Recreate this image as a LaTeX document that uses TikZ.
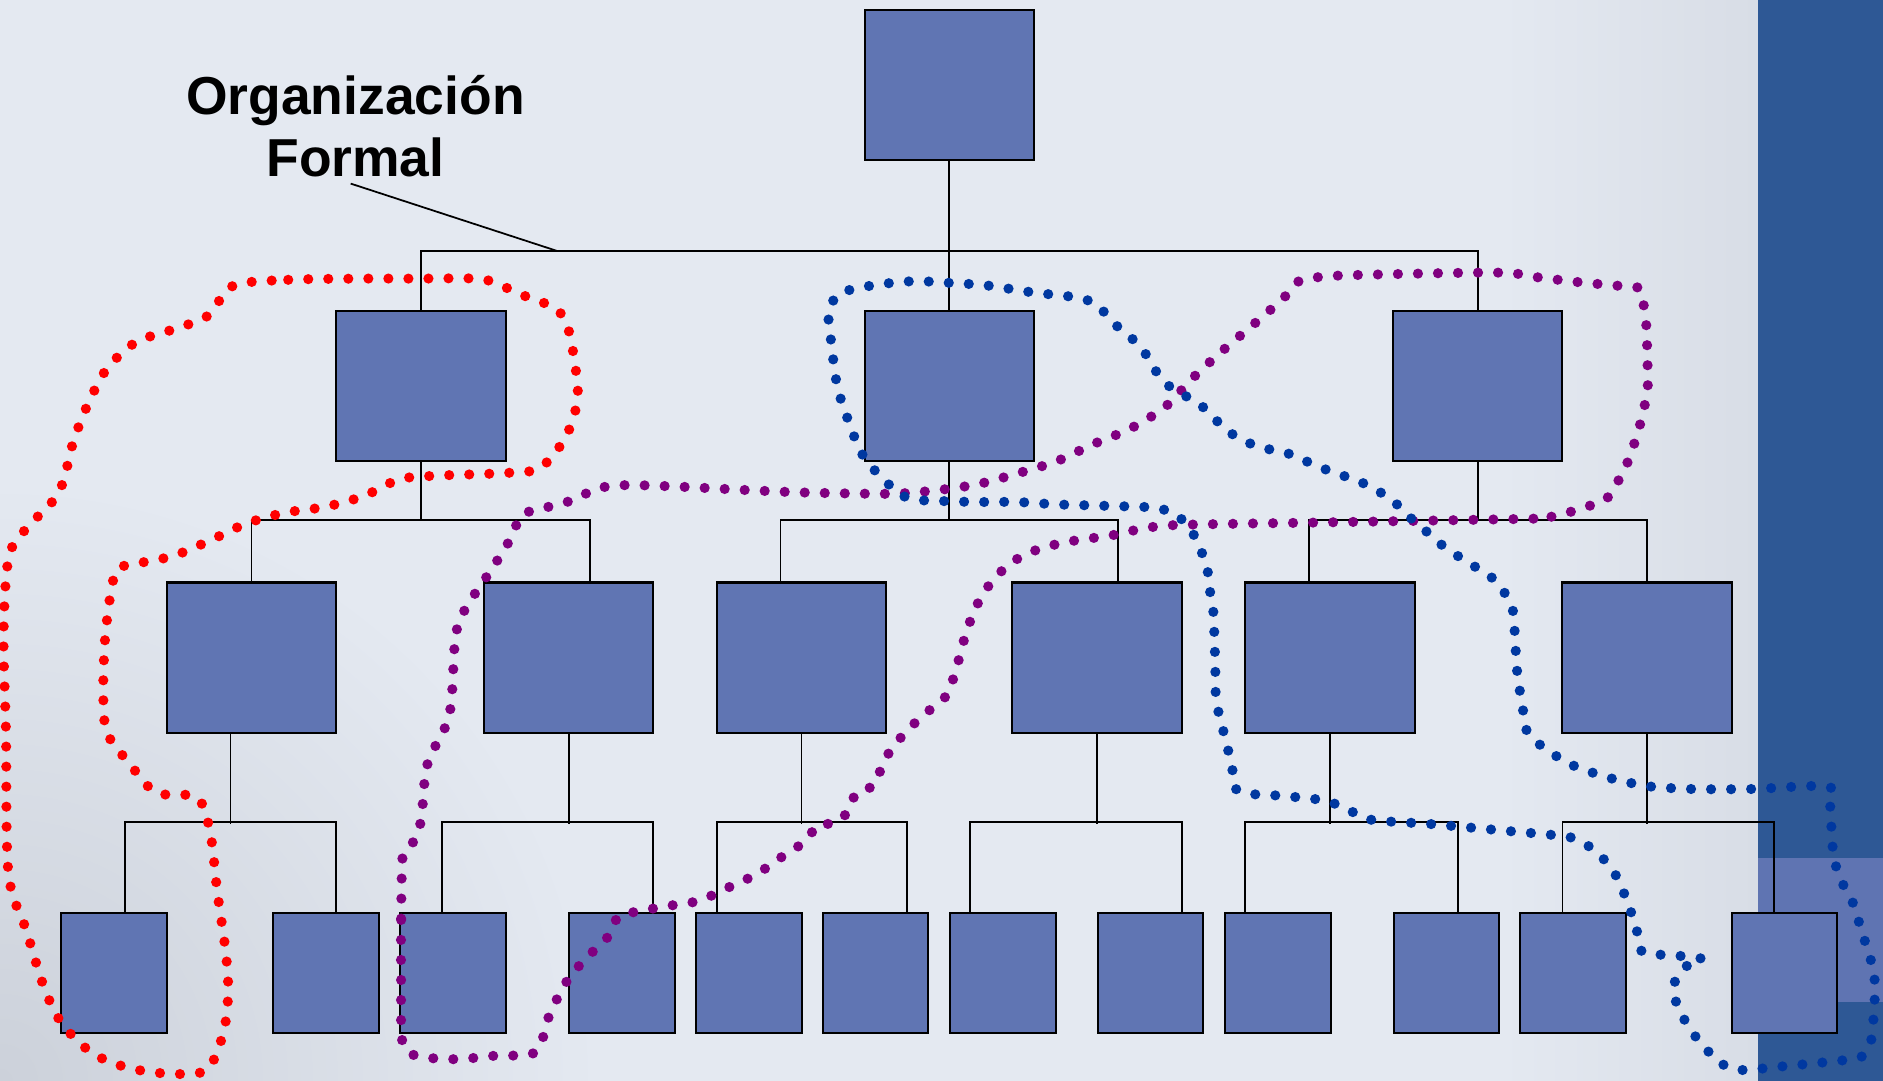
\documentclass[tikz,border=0pt]{standalone}
\usepackage{fontspec}
\setmainfont{Liberation Sans}
\usetikzlibrary{calc}
\definecolor{bg}{RGB}{228,233,241}
\definecolor{bgdark}{RGB}{204,209,218}
\definecolor{bgright}{RGB}{216,221,230}
\definecolor{strip}{RGB}{46,88,149}
\definecolor{band}{RGB}{95,116,178}
\definecolor{boxfill}{RGB}{96,117,179}
\definecolor{dotred}{RGB}{255,0,0}
\definecolor{dotpurple}{RGB}{128,0,128}
\definecolor{dotblue}{RGB}{0,56,160}
\begin{document}
\begin{tikzpicture}[x=0.012009cm,y=-0.012009cm,
  unitbox/.style={draw=black, line width=0.6pt, fill=boxfill, rectangle, inner sep=0pt},
  bigbox/.style={unitbox, minimum width=1.6933cm, minimum height=1.5011cm},
  smallbox/.style={unitbox, minimum width=1.0568cm, minimum height=1.2009cm},
  link/.style={draw=black, line width=0.5pt},
  dots/.style={line width=2.9pt, line cap=round, line join=round, dash pattern=on 0pt off 5.7pt},
]
% background
\useasboundingbox (0,0) rectangle (1568,900);
\fill[bg] (0,0) rectangle (1568,900);
\begin{scope}
  \clip (0,0) rectangle (1464,900);
  \shade[inner color=bgdark, outer color=bg] (0,900) circle (6cm);
  \shade[left color=bg, right color=bgright] (1250,0) rectangle (1464,900);
\end{scope}
\fill[strip] (1464,0) rectangle (1568,900);
\fill[band] (1464,714.5) rectangle (1568,834.4);

% title
\node[font=\bfseries\fontsize{15.2}{17.6}\selectfont, align=center, inner sep=0pt] (title) at (296,105) {Organización\\Formal};

% coordinates of the bars
\coordinate (L1) at (0,209);
\coordinate (L2) at (0,434);
\coordinate (barpt) at (464,209);

% boxes
\node[bigbox] (t) at (790.5,71) {};
\node[bigbox] (a1) at (350.5,321.5) {};
\node[bigbox] (a2) at (790.5,321.5) {};
\node[bigbox] (a3) at (1230.5,321.5) {};
\node[bigbox] (b1) at (209.5,547.5) {};
\node[bigbox] (b2) at (473.5,547.5) {};
\node[bigbox] (b3) at (667.5,547.5) {};
\node[bigbox] (b4) at (913.5,547.5) {};
\node[bigbox] (b5) at (1107.5,547.5) {};
\node[bigbox] (b6) at (1371.5,547.5) {};
\node[smallbox] (c1) at (95,810.5) {};
\node[smallbox] (c2) at (271.5,810.5) {};
\node[smallbox] (c3) at (377,810.5) {};
\node[smallbox] (c4) at (518,810.5) {};
\node[smallbox] (c5) at (623.5,810.5) {};
\node[smallbox] (c6) at (729,810.5) {};
\node[smallbox] (c7) at (835,810.5) {};
\node[smallbox] (c8) at (958,810.5) {};
\node[smallbox] (c9) at (1064,810.5) {};
\node[smallbox] (c10) at (1204.5,810.5) {};
\node[smallbox] (c11) at (1310,810.5) {};
\node[smallbox] (c12) at (1486,810.5) {};

% connectors level 0-1
\draw[link] (t.south) -- (t.south |- L1);
\draw[link] (a1.north) -- (a1.north |- L1) -- (a3.north |- L1) -- (a3.north);
\draw[link] (a2.north) -- (a2.north |- L1);
\draw[link] ($(title.south)+(-4,5)$) -- (barpt);
% level 1-2
\draw[link] (a1.south) -- (a1.south |- L2);
\draw[link] (a2.south) -- (a2.south |- L2);
\draw[link] (a3.south) -- (a3.south |- L2);
\draw[link] (b1.north) -- ++(0,-51) -| ($(b2.north)+(17.5,0)$);
\draw[link] ($(b3.north)+(-17.5,0)$) -- ++(0,-51) -| ($(b4.north)+(17.5,0)$);
\draw[link] ($(b5.north)+(-17.5,0)$) -- ++(0,-51) -| (b6.north);
% level 2-3
\draw[link] ($(b1.south)+(-17.5,0)$) -- ++(0,75);
\draw[link] (b2.south) -- ++(0,75);
\draw[link] (b3.south) -- ++(0,75);
\draw[link] (b4.south) -- ++(0,75);
\draw[link] (b5.south) -- ++(0,75);
\draw[link] (b6.south) -- ++(0,75);
\draw[link] ($(c1.north)+(9,0)$) -- ++(0,-75) -| ($(c2.north)+(8.5,0)$);
\draw[link] ($(c3.north)+(-9,0)$) -- ++(0,-75) -| ($(c4.north)+(26,0)$);
\draw[link] ($(c5.north)+(-26.5,0)$) -- ++(0,-75) -| ($(c6.north)+(26,0)$);
\draw[link] ($(c7.north)+(-27,0)$) -- ++(0,-75) -| ($(c8.north)+(26,0)$);
\draw[link] ($(c9.north)+(-27,0)$) -- ++(0,-75) -| ($(c10.north)+(9.5,0)$);
\draw[link] ($(c11.north)+(-9,0)$) -- ++(0,-75) -| ($(c12.north)+(-9,0)$);

% red dotted loop
\draw[dots, dotred] plot[smooth cycle, tension=0.5] coordinates {
(194,238) (240,233) (300,232) (346,232) (397,232) (413,236) (443,249) (462,256) (472,270) (478,298) (481,332) (471,364) (449,390) (417,394) (366,396) (333,399) (303,413) (271,422) (237,427) (205,436) (175,450) (144,463) (111,470) (96,477) (88,526) (86,576) (89,610) (108,636) (130,660) (164,664) (175,693) (181,743) (188,793) (190,827) (186,860) (172,891) (140,894) (106,889) (77,877) (52,853) (37,823) (22,775) (7,727) (5,611) (3,526) (8,461) (28,434) (45,416) (53,400) (61,368) (73,337) (89,307) (113,285) (142,275) (173,263)};

% purple dotted loop
\draw[dots, dotpurple] plot[smooth cycle, tension=0.5] coordinates {
(335,716) (334,766) (334,817) (335,867) (346,879) (379,882) (413,879) (446,876) (458,844) (474,814) (496,790) (508,778) (515,763) (531,759) (547,756) (565,753) (583,750) (598,743) (613,736) (628,729) (642,720) (656,710) (670,701) (682,686) (694,686) (707,675) (713,660) (728,654) (734,639) (742,624) (753,611) (765,599) (778,588) (790,577) (795,560) (800,544) (804,528) (810,512) (817,497) (827,483) (839,471) (853,462) (869,456) (885,452) (902,449) (918,447) (935,444) (951,440) (968,438) (985,437) (1036,436) (1103,435) (1272,432) (1288,431) (1305,427) (1321,422) (1337,416) (1346,403) (1354,388) (1360,372) (1365,356) (1369,340) (1372,323) (1372,307) (1371,273) (1369,256) (1365,240) (1348,238) (1315,235) (1281,231) (1247,227) (1129,229) (1096,231) (1080,235) (1069,248) (1044,270) (1018,292) (993,315) (970,339) (941,357) (910,370) (880,384) (848,394) (815,403) (782,408) (748,411) (714,411) (666,410) (620,408) (560,405) (520,404) (496,407) (481,415) (465,420) (449,424) (434,429) (427,445) (419,459) (410,473) (400,488) (391,501) (383,516) (379,532) (377,566) (376,583) (373,600) (366,615) (358,630) (354,646) (351,680) (347,696) (338,710)};

% blue dotted path
\draw[dots, dotblue] plot[smooth, tension=0.5] coordinates {
(1416,798) (1399,796) (1383,795) (1367,792) (1363,775) (1358,759) (1352,743) (1345,728) (1335,715) (1322,704) (1307,697) (1290,695) (1256,692) (1223,689) (1189,686) (1156,684) (1139,682) (1124,675) (1108,668) (1092,665) (1058,662) (1041,661) (1028,656) (1026,639) (1022,622) (1018,606) (1014,590) (1012,573) (1012,556) (1011,523) (1010,506) (1007,489) (1005,472) (999,456) (992,442) (980,429) (964,423) (948,422) (914,421) (880,420) (846,418) (812,418) (779,417) (762,416) (748,411) (736,399) (724,387) (715,373) (709,357) (703,341) (698,325) (695,309) (693,292) (691,275) (690,259) (698,245) (714,240) (731,237) (748,235) (765,234) (781,235) (799,236) (815,237) (832,239) (849,242) (865,244) (882,246) (899,248) (914,254) (925,267) (938,278) (950,289) (959,303) (968,317) (982,327) (997,335) (1009,346) (1021,358) (1036,367) (1051,373) (1068,376) (1083,382) (1099,389) (1115,395) (1130,400) (1146,408) (1160,417) (1172,429) (1185,440) (1197,451) (1211,461) (1225,470) (1240,479) (1251,491) (1259,505) (1261,522) (1262,539) (1263,556) (1265,572) (1268,589) (1270,606) (1281,619) (1295,629) (1309,637) (1325,643) (1341,648) (1358,652) (1375,655) (1408,657) (1459,657) (1522,655) (1524,671) (1526,705) (1529,722) (1535,737) (1543,752) (1548,768) (1553,784) (1558,800) (1561,816) (1561,833) (1558,867) (1550,880) (1534,883) (1484,888) (1450,891) (1434,886) (1422,875) (1411,862) (1402,848) (1395,832) (1395,816) (1406,803)};
\end{tikzpicture}
\end{document}
